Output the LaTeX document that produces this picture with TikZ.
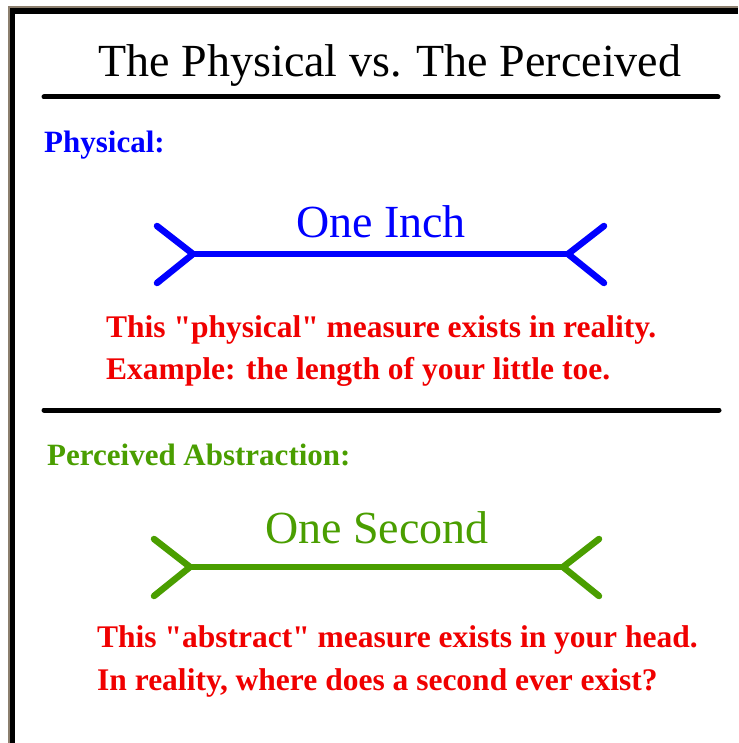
\documentclass[tikz,border=0pt]{standalone}
\usepackage{fontspec}
\setmainfont{Liberation Serif}
\definecolor{inchblue}{HTML}{0000FF}
\definecolor{secgreen}{HTML}{4A9E00}
\definecolor{notered}{HTML}{F00000}
\definecolor{frametan}{HTML}{8C7F6E}
\tikzset{
  rule/.style={line width=5pt, line cap=round, draw=black},
  measure/.style={line width=6.5pt, line cap=round, line join=round, draw=#1},
  title/.style={font=\fontsize{46}{46}\selectfont, anchor=base, inner sep=0pt},
  unitlabel/.style={font=\fontsize{46}{46}\selectfont, text=#1, anchor=base, inner sep=0pt},
  heading/.style={font=\bfseries\fontsize{31}{31}\selectfont, text=#1, anchor=base west, inner sep=0pt},
  note/.style={font=\bfseries\fontsize{31.5}{31.5}\selectfont, text=notered, anchor=base west, inner sep=0pt},
}

\begin{document}
\begin{tikzpicture}[x=1pt, y=-1pt]
  \useasboundingbox (0,0) rectangle (738,743);
  \fill[white] (0,0) rectangle (738,743);
  \fill[frametan] (8,6) rectangle (738,743);
  \fill[black] (10,8) rectangle (738,743);
  \fill[white] (15,14) rectangle (738,743);

  \node[title] (title) at (390,77) {The Physical vs. The Perceived};
  \coordinate (ruleAL) at (44,97);
  \coordinate (ruleAR) at (718,97);
  \draw[rule] (ruleAL) -- (ruleAR);

  \node[heading=inchblue] (physical) at (44,153) {Physical:};
  \node[unitlabel=inchblue] (inch) at (381,237) {One Inch};
  \node[note] (noteAa) at (106,337) {This \textquotedbl physical\textquotedbl{} measure exists in reality.};
  \node[note] (noteAb) at (106,379) {Example: the length of your little toe.};

  \coordinate (ruleBL) at (44,410);
  \coordinate (ruleBR) at (719,410);
  \draw[rule] (ruleBL) -- (ruleBR);

  \node[heading=secgreen] (perceived) at (47,465) {Perceived Abstraction:};
  \node[unitlabel=secgreen] (second) at (377,543) {One Second};
  \node[note] (noteBa) at (97,647) {This \textquotedbl abstract\textquotedbl{} measure exists in your head.};
  \node[note] (noteBb) at (97,690) {In reality, where does a second ever exist?};

  \foreach \n/\y/\xl/\xr/\col in {A/254/193/568/inchblue, B/567/190/563/secgreen}{
    \coordinate (\n left) at (\xl,\y);
    \coordinate (\n right) at (\xr,\y);
    \draw[measure=\col] (\xl-36,\y-28) -- (\n left) -- (\xl-36,\y+29);
    \draw[measure=\col] (\n left) -- (\n right);
    \draw[measure=\col] (\xr+36,\y-28) -- (\n right) -- (\xr+36,\y+29);
  }
\end{tikzpicture}
\end{document}
